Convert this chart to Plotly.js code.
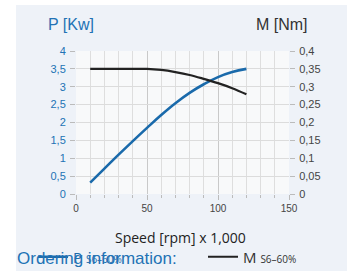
<!DOCTYPE html>
<html>
<head>
<meta charset="utf-8">
<script src="https://cdn.plot.ly/plotly-3.0.1.min.js"></script>
<style>html,body{margin:0;padding:0;background:#fff;}#chart{width:347px;height:271px;}</style>
</head>
<body>
<div id="chart"></div>
<script>
// Data
var speed = [10, 20, 30, 40, 50, 60, 70, 80, 90, 100, 110, 120];          // rpm x 1,000
var powerP = [0.32, 0.71, 1.1, 1.48, 1.85, 2.21, 2.54, 2.83, 3.07, 3.27, 3.41, 3.5]; // kW
var torqueM = [0.35, 0.35, 0.35, 0.35, 0.35, 0.347, 0.341, 0.333, 0.322, 0.31, 0.296, 0.279]; // Nm
var leftTicks = [0, 0.5, 1, 1.5, 2, 2.5, 3, 3.5, 4];
var rightTicks = [0, 0.05, 0.1, 0.15, 0.2, 0.25, 0.3, 0.35, 0.4];
var xTicks = [0, 50, 100, 150];

var blue = '#1a6aab';
var dark = '#222222';

var traces = [
  {x: speed, y: powerP, type: 'scatter', mode: 'lines', line: {color: blue, width: 2.6, shape: 'spline', smoothing: 1.2},
   name: '<span style="color:#1a6aab">P <span style="font-size:10px">S6–60%</span></span>', yaxis: 'y', legend: 'legend'},
  {x: speed, y: torqueM, type: 'scatter', mode: 'lines', line: {color: dark, width: 2.2, shape: 'spline'},
   name: 'M <span style="font-size:10px">S6–60%</span>', yaxis: 'y2', legend: 'legend2'}
];

var L = 76, R = 58, T = 51, B = 77, W = 347, H = 271;
var pw = W - L - R, ph = H - T - B;
function px(xp){ return (xp - L) / pw; }
function py(yp){ return (H - B - yp) / ph; }

var legFont = {family: 'Open Sans, sans-serif', size: 15, color: '#333'};

var layout = {
  width: W, height: H,
  margin: {l: L, r: R, t: T, b: B, pad: 0, autoexpand: false},
  paper_bgcolor: '#eef2f8',
  plot_bgcolor: '#f8f9fa',
  separators: ',.',
  font: {family: 'Liberation Sans, Arial, sans-serif', color: '#444'},
  showlegend: true,
  legend: {orientation: 'h', x: px(33), y: py(257), xanchor: 'left', yanchor: 'middle',
           bgcolor: 'rgba(0,0,0,0)', font: legFont, itemwidth: 30},
  legend2: {orientation: 'h', x: px(203), y: py(257), xanchor: 'left', yanchor: 'middle',
           bgcolor: 'rgba(0,0,0,0)', font: legFont, itemwidth: 30},
  xaxis: {range: [0, 150], tickvals: xTicks, ticktext: xTicks.map(String), showgrid: true, gridcolor: '#c9c9c9', gridwidth: 1,
          zeroline: false, ticks: 'outside', ticklen: 5, tickcolor: '#bbb', tickfont: {size: 10, color: '#444'},
          minor: {dtick: 10, showgrid: true, gridcolor: '#dedede', ticks: 'outside', ticklen: 3, tickcolor: '#bbb'},
          fixedrange: true},
  yaxis: {range: [0, 4], tickvals: leftTicks, showgrid: true, gridcolor: '#dcdcdc', zeroline: false,
          ticks: 'outside', ticklen: 5, tickcolor: '#bbb', tickfont: {size: 11, color: '#2272b5'}, ticklabelstandoff: 2},
  yaxis2: {range: [0, 0.4], tickvals: rightTicks, overlaying: 'y', side: 'right', showgrid: false, zeroline: false,
           ticks: 'outside', ticklen: 5, tickcolor: '#bbb', tickfont: {size: 11, color: '#444'}, ticklabelstandoff: 2},
  shapes: [
    {type: 'rect', xref: 'paper', yref: 'paper', x0: px(0), x1: px(16), y0: py(H), y1: py(0), fillcolor: '#fff', line: {width: 0}, layer: 'below'},
    {type: 'rect', xref: 'paper', yref: 'paper', x0: px(0), x1: px(W), y0: py(5), y1: py(0), fillcolor: '#fff', line: {width: 0}, layer: 'below'}
  ],
  annotations: [
    {text: 'P [Kw]', xref: 'paper', yref: 'paper', x: px(71), y: py(25), xanchor: 'center', yanchor: 'middle', showarrow: false,
     font: {family: 'Liberation Sans, Arial, sans-serif', size: 16, color: '#2272b5'}},
    {text: 'M [Nm]', xref: 'paper', yref: 'paper', x: px(282), y: py(25), xanchor: 'center', yanchor: 'middle', showarrow: false,
     font: {family: 'Liberation Sans, Arial, sans-serif', size: 16, color: '#333'}},
    {text: 'Speed [rpm] x 1,000', xref: 'paper', yref: 'paper', x: px(180), y: py(237), xanchor: 'center', yanchor: 'middle', showarrow: false,
     font: {family: 'Open Sans, sans-serif', size: 14, color: '#222'}},
    {text: 'Ordering information:', xref: 'paper', yref: 'paper', x: px(15), y: py(258), xanchor: 'left', yanchor: 'middle', showarrow: false,
     font: {family: 'Liberation Sans, Arial, sans-serif', size: 17, color: '#2272b5'}}
  ]
};

Plotly.newPlot('chart', traces, layout, {displayModeBar: false, staticPlot: true});
</script>
</body>
</html>
